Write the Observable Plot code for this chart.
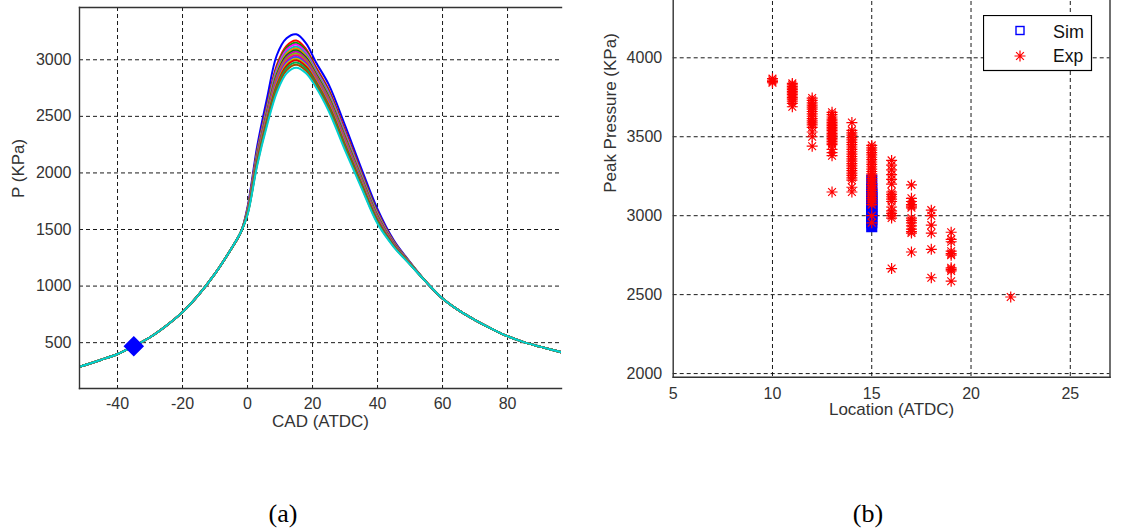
<!DOCTYPE html>
<html>
<head>
<meta charset="utf-8">
<script src="https://cdn.jsdelivr.net/npm/d3@7"></script>
<script src="https://cdn.jsdelivr.net/npm/@observablehq/plot@0.6"></script>
<style>
  html, body { margin: 0; padding: 0; background: #fff; }
  body { width: 1133px; height: 531px; position: relative; overflow: hidden;
         font-family: "Liberation Sans", Arial, sans-serif; }
  .panel { position: absolute; }
  .cap { position: absolute; top: 499px; width: 60px; margin-left: -30px; text-align: center;
         font-family: "Liberation Serif", "Times New Roman", serif; font-size: 26px; color: #000; }
  #legend { position: absolute; left: 983px; top: 15px; }
</style>
</head>
<body>
<div id="pa" class="panel" style="left:0;top:0"></div>
<div id="pb" class="panel" style="left:590px;top:-16px"></div>
<svg id="legend" width="110" height="57"></svg>
<div class="cap" style="left:283px">(a)</div>
<div class="cap" style="left:868px">(b)</div>
<script>
// ---- (a) cylinder pressure traces ----
// compression stroke, common to all runs
const compressionCAD = [-52, -48, -45, -40, -35, -30, -25, -20, -15, -10, -5, -2];
const compressionP   = [284, 320, 349, 400, 469, 548, 650, 770, 925, 1110, 1330, 1480];
// combustion window, one row per simulated run
const runCAD = [0, 3, 6, 9, 12, 15, 18, 21, 25, 30, 35, 40, 45, 50];
const runP = [
  [1700, 2240, 2660, 3040, 3190, 3225, 3145, 2980, 2780, 2420, 2040, 1680, 1405, 1212],
  [1683, 2200, 2598, 2953, 3123, 3170, 3095, 2938, 2735, 2378, 2008, 1655, 1394, 1208],
  [1678, 2189, 2584, 2934, 3104, 3150, 3078, 2924, 2720, 2364, 1997, 1647, 1390, 1206],
  [1675, 2181, 2573, 2918, 3088, 3135, 3064, 2913, 2708, 2353, 1988, 1640, 1387, 1205],
  [1670, 2170, 2558, 2898, 3068, 3115, 3046, 2898, 2692, 2338, 1977, 1632, 1383, 1204],
  [1667, 2162, 2547, 2883, 3053, 3100, 3033, 2887, 2680, 2327, 1968, 1625, 1380, 1203],
  [1663, 2154, 2536, 2868, 3038, 3085, 3019, 2876, 2668, 2316, 1959, 1618, 1377, 1202],
  [1660, 2146, 2525, 2853, 3023, 3070, 3006, 2865, 2657, 2305, 1951, 1612, 1374, 1200],
  [1657, 2138, 2513, 2837, 3007, 3055, 2992, 2853, 2645, 2293, 1942, 1605, 1370, 1199],
  [1653, 2130, 2502, 2822, 2992, 3040, 2979, 2842, 2633, 2282, 1933, 1598, 1367, 1198],
  [1650, 2122, 2491, 2807, 2977, 3025, 2965, 2831, 2621, 2271, 1925, 1592, 1364, 1197],
  [1647, 2113, 2480, 2791, 2961, 3010, 2952, 2820, 2609, 2260, 1916, 1585, 1361, 1196],
  [1643, 2105, 2468, 2776, 2946, 2995, 2938, 2808, 2597, 2248, 1907, 1579, 1358, 1195],
  [1639, 2094, 2454, 2756, 2926, 2975, 2921, 2794, 2581, 2234, 1896, 1570, 1354, 1193],
  [1635, 2084, 2439, 2736, 2906, 2955, 2903, 2779, 2565, 2219, 1884, 1561, 1350, 1192],
  [1630, 2070, 2420, 2710, 2880, 2930, 2880, 2760, 2545, 2200, 1870, 1550, 1345, 1190]
];
const runColors = ["#0000ff", "#ff0000", "#00a000", "#ff00ff", "#00c0c0", "#ff8000",
                   "#008000", "#c000c0", "#80c000", "#ff0080", "#4040ff", "#c0c000",
                   "#e00000", "#00b050", "#a05000", "#00d0d0"];
// expansion stroke, common to all runs
const expansionCAD = [55, 60, 65, 70, 75, 80, 85, 90, 97];
const expansionP   = [1035, 890, 785, 700, 625, 557, 505, 465, 412];
// start-of-cycle marker
const markerCAD = [-35];
const markerP = [469];

const cadTicks = [-40, -20, 0, 20, 40, 60, 80];
const pTicks = [500, 1000, 1500, 2000, 2500, 3000];

// ---- (b) peak pressure vs. location ----
const expLocation = [10, 11, 12, 13, 14, 15, 16, 17, 18, 19, 22];
const expPeak = [
  [3868, 3858, 3850, 3842],
  [3838, 3828, 3818, 3808, 3798, 3788, 3778, 3768, 3758, 3748, 3738, 3726, 3712, 3690],
  [3745, 3730, 3715, 3700, 3688, 3675, 3660, 3645, 3630, 3615, 3600, 3588, 3575, 3560, 3530, 3500, 3440],
  [3655, 3640, 3625, 3612, 3600, 3590, 3580, 3570, 3560, 3550, 3540, 3530, 3520, 3510, 3500, 3490,
   3480, 3470, 3460, 3450, 3420, 3400, 3380, 3150],
  [3590, 3540, 3525, 3510, 3495, 3480, 3465, 3450, 3435, 3420, 3405, 3390, 3375, 3360, 3345, 3330,
   3315, 3300, 3285, 3270, 3255, 3240, 3225, 3180, 3150],
  [3445, 3430, 3415, 3400, 3385, 3370, 3355, 3340, 3325, 3310, 3295, 3280, 3265, 3250, 3235, 3220,
   3205, 3190, 3175, 3160, 3145, 3130, 3115, 3100, 3085, 3070, 3000, 2955],
  [3350, 3320, 3290, 3260, 3230, 3200, 3150, 3135, 3120, 3105, 3090, 3055, 3030, 3015, 3000, 2985, 2665],
  [3195, 3110, 3090, 3070, 3060, 3050, 2985, 2970, 2955, 2935, 2915, 2900, 2890, 2770],
  [3035, 3000, 2940, 2890, 2787, 2607],
  [2895, 2850, 2835, 2775, 2760, 2750, 2670, 2660, 2650, 2585],
  [2485]
];
const locTicks = [5, 10, 15, 20, 25];
const peakTicks = [2000, 2500, 3000, 3500, 4000];

// ---- build tables ----
const traces = [];
runP.forEach((row, run) => {
  compressionCAD.forEach((c, i) => traces.push({run, cad: c, p: compressionP[i]}));
  runCAD.forEach((c, i) => traces.push({run, cad: c, p: row[i]}));
  expansionCAD.forEach((c, i) => traces.push({run, cad: c, p: expansionP[i]}));
});
const marker = markerCAD.map((c, i) => ({cad: c, p: markerP[i]}));

// simulated peak of each run and where it occurs
const sim = runP.map(row => {
  const i = d3.maxIndex(row);
  return {loc: runCAD[i], peak: row[i]};
});
const exp = expLocation.flatMap((loc, i) => expPeak[i].map(peak => ({loc, peak})));

const ink = "#333";
const plain = d => String(d);
const gridStyle = {stroke: "#000", strokeOpacity: 0.9, strokeWidth: 1, strokeDasharray: "4,3"};
const star = {
  draw(ctx, size) {
    const r = Math.sqrt(size / Math.PI), d = r * Math.SQRT1_2;
    ctx.moveTo(-r, 0); ctx.lineTo(r, 0);
    ctx.moveTo(0, -r); ctx.lineTo(0, r);
    ctx.moveTo(-d, -d); ctx.lineTo(d, d);
    ctx.moveTo(-d, d); ctx.lineTo(d, -d);
  }
};

const chartA = Plot.plot({
  width: 580, height: 450,
  marginLeft: 79, marginRight: 19, marginTop: 7, marginBottom: 62,
  style: {fontFamily: "Liberation Sans, Arial, sans-serif", background: "transparent"},
  x: {domain: [-51.7, 96.6]},
  y: {domain: [95, 3462]},
  color: {type: "identity"},
  marks: [
    Plot.gridX(cadTicks, gridStyle),
    Plot.gridY(pTicks, gridStyle),
    Plot.line(traces, {x: "cad", y: "p", z: "run", stroke: d => runColors[d.run],
                       strokeWidth: 2, curve: "catmull-rom", clip: true}),
    Plot.dot(marker, {x: "cad", y: "p", symbol: "diamond2", r: 8.3, fill: "#0000ff", stroke: "#0000ff"}),
    Plot.frame({anchor: "left", stroke: ink, strokeWidth: 1.4}),
    Plot.frame({anchor: "bottom", stroke: ink, strokeWidth: 1.4}),
    Plot.frame({anchor: "top", stroke: ink, strokeWidth: 1.4}),
    Plot.axisX({ticks: cadTicks, tickFormat: plain, tickSize: 0, tickPadding: 9, fontSize: 16, color: ink, label: null}),
    Plot.axisY({ticks: pTicks, tickFormat: plain, tickSize: 0, tickPadding: 8, fontSize: 16, color: ink, label: null}),
    Plot.text(["CAD (ATDC)"], {frameAnchor: "bottom", dy: 38, fontSize: 17, fill: ink}),
    Plot.text(["P (KPa)"], {frameAnchor: "left", dx: -61, rotate: -90, fontSize: 17, fill: ink})
  ]
});
document.getElementById("pa").appendChild(chartA);

const chartB = Plot.plot({
  width: 543, height: 453,
  marginLeft: 82.7, marginRight: 23.5, marginTop: 10, marginBottom: 60.3,
  style: {fontFamily: "Liberation Sans, Arial, sans-serif", background: "transparent"},
  x: {domain: [5, 27]},
  y: {domain: [1977, 4401]},
  marks: [
    Plot.gridX(locTicks.slice(1), gridStyle),
    Plot.gridY(peakTicks, gridStyle),
    Plot.dot(sim, {x: "loc", y: "peak", symbol: "square", r: 5.5, stroke: "#0000ff", fill: "#0000ff", strokeWidth: 1.4}),
    Plot.dot(exp, {x: "loc", y: "peak", symbol: star, r: 5.5, stroke: "#ff0000", fill: "none", strokeWidth: 1.2}),
    Plot.frame({anchor: "left", stroke: ink, strokeWidth: 1.4}),
    Plot.frame({anchor: "bottom", stroke: ink, strokeWidth: 1.4}),
    Plot.frame({anchor: "right", stroke: ink, strokeWidth: 1.4}),
    Plot.axisX({ticks: locTicks, tickFormat: plain, tickSize: 0, tickPadding: 10, fontSize: 16, color: ink, label: null}),
    Plot.axisY({ticks: peakTicks, tickFormat: plain, tickSize: 0, tickPadding: 11, fontSize: 16, color: ink, label: null}),
    Plot.text(["Location (ATDC)"], {frameAnchor: "bottom", dy: 37.5, fontSize: 17, fill: ink}),
    Plot.text(["Peak Pressure (KPa)"], {frameAnchor: "left", dx: -63, dy: 7, rotate: -90, fontSize: 17, fill: ink})
  ]
});
document.getElementById("pb").appendChild(chartB);

// legend box
const lg = d3.select("#legend");
lg.append("rect").attr("x", 0.5).attr("y", 0.5).attr("width", 108).attr("height", 55)
  .attr("fill", "#fff").attr("stroke", "#000").attr("stroke-width", 1.2);
lg.append("rect").attr("x", 33).attr("y", 11.5).attr("width", 8).attr("height", 8)
  .attr("fill", "none").attr("stroke", "#0000ff").attr("stroke-width", 1.4);
lg.append("path").attr("transform", "translate(37,41)")
  .attr("d", d3.symbol(star, Math.PI * 5.5 * 5.5)())
  .attr("fill", "none").attr("stroke", "#ff0000").attr("stroke-width", 1.2);
lg.append("text").attr("x", 70).attr("y", 23).attr("font-size", 18).attr("fill", "#111")
  .attr("font-family", "Liberation Sans, Arial, sans-serif").text("Sim");
lg.append("text").attr("x", 70).attr("y", 47).attr("font-size", 17.5).attr("fill", "#111")
  .attr("font-family", "Liberation Sans, Arial, sans-serif").text("Exp");
</script>
</body>
</html>
